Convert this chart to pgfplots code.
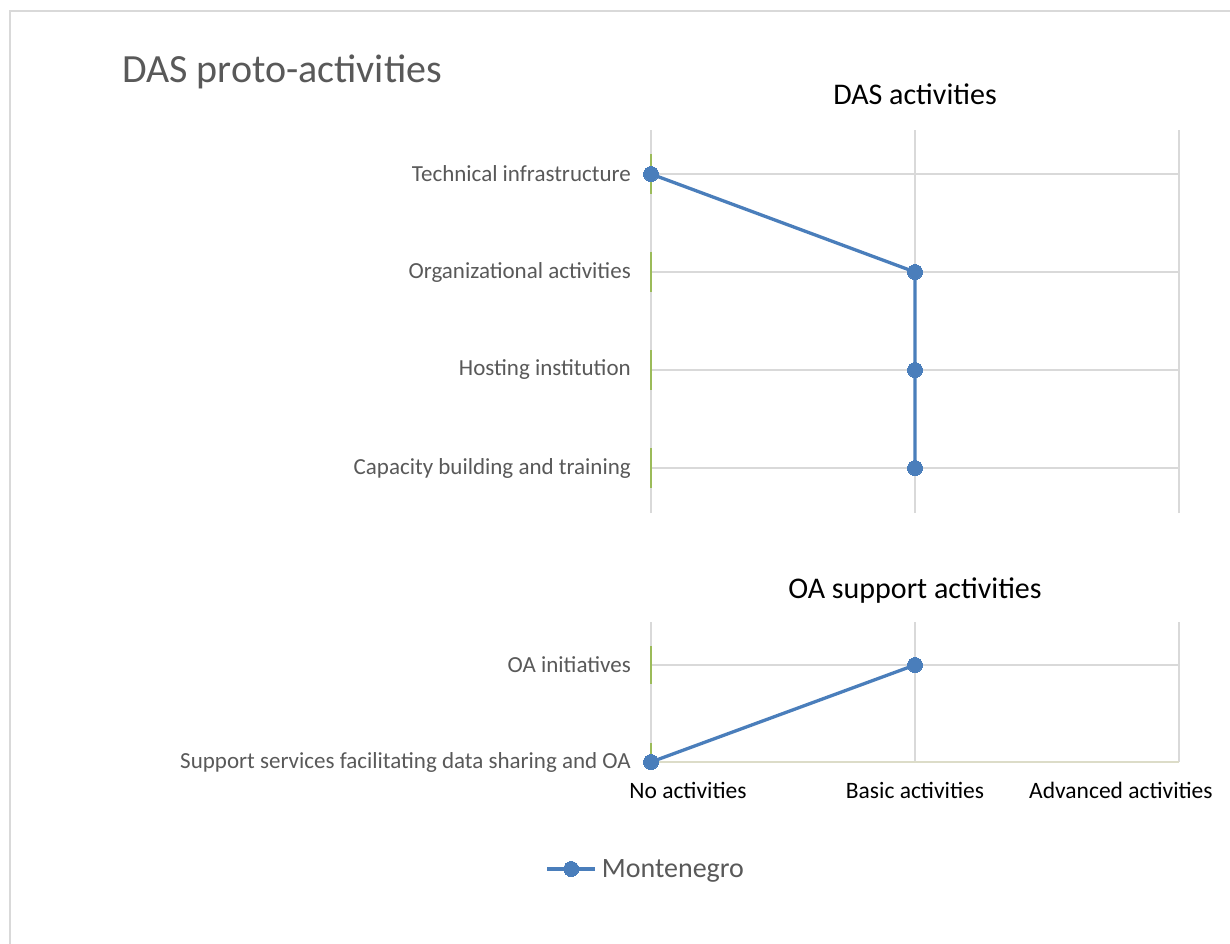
\documentclass[border=0pt]{standalone}
\usepackage{pgfplots}
\pgfplotsset{compat=1.18}
\usepackage{fontspec}
\setmainfont{Carlito}

\definecolor{serblue}{HTML}{4A7EBB}
\definecolor{labgray}{HTML}{595959}
\definecolor{gridgray}{HTML}{D9D9D9}
\definecolor{basebeige}{HTML}{DCDCC8}
\definecolor{tickgreen}{HTML}{9BBB59}

\pgfplotsset{
  excelbase/.style={
    scale only axis, width=528pt, clip=false,
    xmin=0, xmax=2,
    axis line style={draw=none},
    major tick length=0pt,
    xtick={0.14,1,1.78},
    extra x ticks={0,1,2}, extra x tick labels={},
    extra x tick style={grid=major},
    ymajorgrids,
    grid style={gridgray, line width=1.4pt},
    yticklabel style={font=\fontsize{23}{27}\selectfont, text=labgray, anchor=east, inner sep=0pt, xshift=-20pt},
    xticklabel style={font=\fontsize{23.5}{28}\selectfont, text=black, inner sep=0pt, yshift=-20pt},
    title style={font=\fontsize{30}{36}\selectfont, anchor=base, at={(0.5,1)}, inner sep=0pt},
  },
  serline/.style={serblue, line width=3.3pt, mark=*, mark size=7.5pt, mark options={fill=serblue, draw=serblue, line width=0pt}},
  greenbars/.style={draw=none, mark=none, forget plot,
    error bars/.cd, y dir=both, y explicit, error mark=none,
    error bar style={tickgreen, line width=1.4pt}},
}

\begin{document}
\begin{tikzpicture}
\path[use as bounding box] (0,0) rectangle (1230pt,-943pt);
\fill[white] (0,0) rectangle (1230pt,-943pt);
\draw[gridgray, line width=1.4pt] (10pt,-945pt) -- (10pt,-11pt) -- (1232pt,-11pt);

\node[anchor=base west, inner sep=0pt, text=labgray, font=\fontsize{40}{48}\selectfont] at (122pt,-82pt) {DAS proto-activities};

% upper panel: DAS activities
\begin{axis}[excelbase, at={(651pt,-513pt)}, anchor=south west, height=383pt,
  ymin=0.541, ymax=4.449,
  ytick={1,2,3,4},
  yticklabels={Capacity building and training, Hosting institution, Organizational activities, Technical infrastructure},
  xticklabels={},
  title={DAS activities}, title style={yshift=20pt}]
\addplot[greenbars] coordinates {(0,1) +- (0,0.2) (0,2) +- (0,0.2) (0,3) +- (0,0.2) (0,4) +- (0,0.2)};
\addplot[serline] coordinates {(0,4) (1,3) (1,2) (1,1)};
\end{axis}

% lower panel: OA support activities
\begin{axis}[excelbase, at={(651pt,-762pt)}, anchor=south west, height=140pt,
  ymin=1, ymax=2.443,
  ytick={1,2},
  yticklabels={Support services facilitating data sharing and OA, OA initiatives},
  xticklabels={No activities, Basic activities, Advanced activities},
  title={OA support activities}, title style={yshift=18pt},
  legend style={draw=none, fill=none, at={(-0.2,-0.764)}, anchor=west, inner sep=0pt,
    font=\fontsize{28}{33}\selectfont, text=labgray, nodes={inner sep=0pt}},
  legend image code/.code={\draw[mark repeat=2, mark phase=2, #1] plot coordinates {(0pt,0pt) (24pt,0pt) (48pt,0pt)};},
  legend cell align=left]
\draw[basebeige, line width=1.4pt] (axis cs:0,1) -- (axis cs:2,1);
\addplot[greenbars] coordinates {(0,1) += (0,0.2) -= (0,0) (0,2) +- (0,0.2)};
\addplot[serline] coordinates {(0,1) (1,2)};
\addlegendentry{\hspace{5pt}Montenegro}
\end{axis}
\end{tikzpicture}
\end{document}
